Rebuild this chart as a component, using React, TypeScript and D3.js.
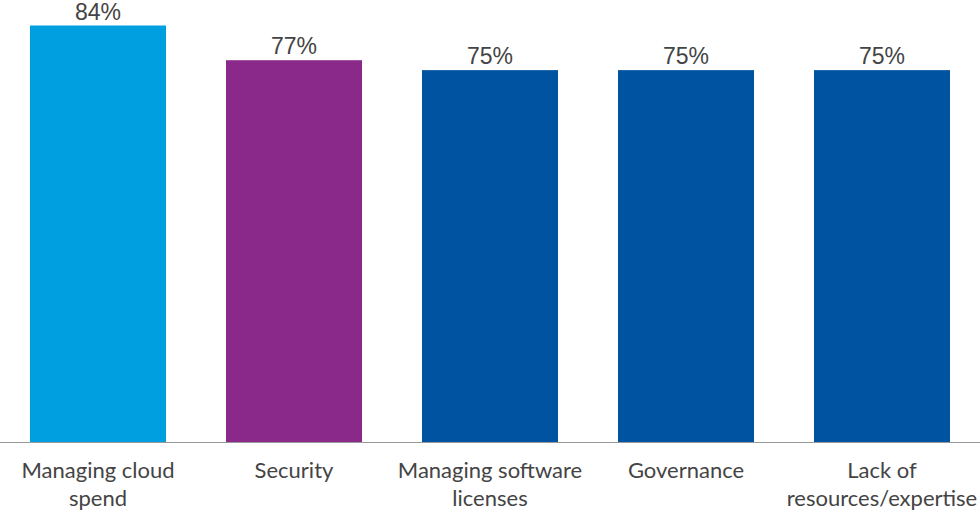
import * as d3 from "d3";
import { useEffect, useRef } from "react";

const categories = [
  ["Managing cloud", "spend"],
  ["Security"],
  ["Managing software", "licenses"],
  ["Governance"],
  ["Lack of", "resources/expertise"],
];
const values = [84, 77, 75, 75, 75];
const barColors = ["#00A0E0", "#8B298B", "#0053A0", "#0053A0", "#0053A0"];

const width = 980;
const height = 514;
const baseline = 442;

export default function App() {
  const svgRef = useRef<SVGSVGElement>(null);

  useEffect(() => {
    const svg = d3.select(svgRef.current);
    svg.selectChildren("*").remove();

    const idx = values.map((_, i) => i);

    const x = d3
      .scaleBand<number>()
      .domain(idx)
      .range([0, width])
      .paddingInner(0.306)
      .paddingOuter(0.153);

    const y = d3.scaleLinear().domain([0, 84]).range([baseline, 25.5]);

    // bars
    svg
      .append("g")
      .selectAll("rect")
      .data(idx)
      .join("rect")
      .attr("x", (i) => x(i)!)
      .attr("y", (i) => y(values[i]))
      .attr("width", x.bandwidth())
      .attr("height", (i) => baseline - y(values[i]))
      .attr("fill", (i) => barColors[i]);

    // value labels
    svg
      .append("g")
      .selectAll("text")
      .data(idx)
      .join("text")
      .attr("x", (i) => x(i)! + x.bandwidth() / 2)
      .attr("y", (i) => y(values[i]) - 6)
      .attr("text-anchor", "middle")
      .attr("font-family", "'Liberation Sans', Arial, sans-serif")
      .attr("font-size", 23)
      .attr("fill", "#444")
      .text((i) => `${values[i]}%`);

    // baseline axis
    svg
      .append("line")
      .attr("x1", 0)
      .attr("x2", width)
      .attr("y1", baseline + 0.5)
      .attr("y2", baseline + 0.5)
      .attr("stroke", "#999")
      .attr("stroke-width", 1.2);

    // category labels
    const labels = svg
      .append("g")
      .selectAll("text")
      .data(idx)
      .join("text")
      .attr("x", (i) => x(i)! + x.bandwidth() / 2)
      .attr("y", 478)
      .attr("text-anchor", "middle")
      .attr("font-family", "Lato, 'Open Sans', sans-serif")
      .attr("font-size", 22)
      .attr("fill", "#444");

    labels
      .selectAll("tspan")
      .data((i) => categories[i])
      .join("tspan")
      .attr("x", function () {
        return (this.parentNode as SVGTextElement).getAttribute("x");
      })
      .attr("dy", (_, j) => (j === 0 ? 0 : 28))
      .text((d) => d);
  }, []);

  return (
    <svg
      ref={svgRef}
      width={width}
      height={height}
      style={{ position: "absolute", left: 0, top: 0, background: "#fff" }}
    />
  );
}
